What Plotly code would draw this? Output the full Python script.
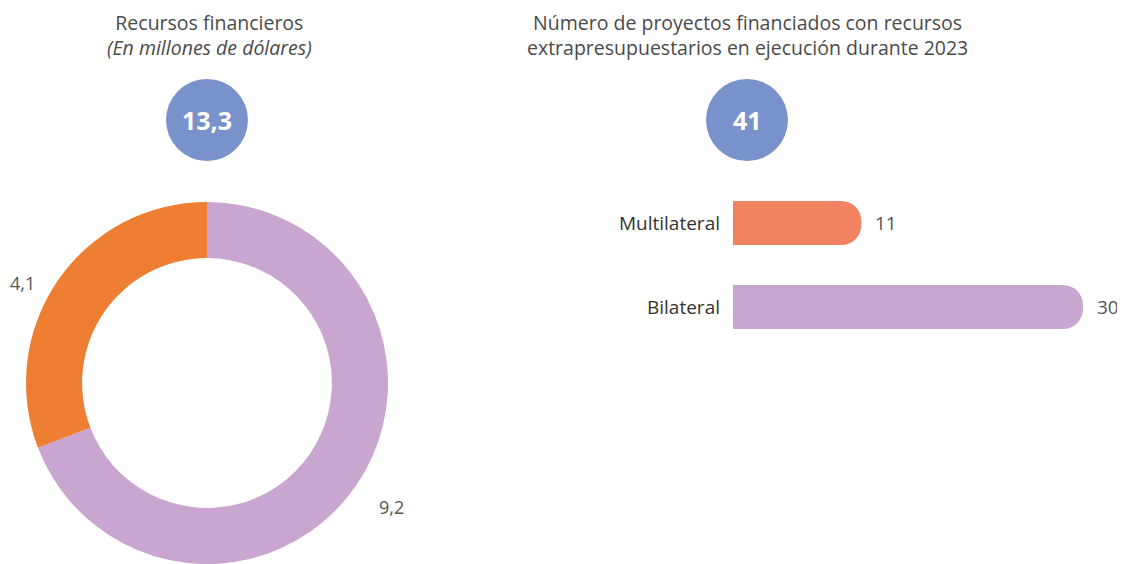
import math
import plotly.graph_objects as go

# data
donut_values = [9.2, 4.1]          # purple first (clockwise from 12 o'clock), then orange
donut_text = ["9,2", "4,1"]
donut_colors = ["#C8A6D0", "#EE7E32"]

bar_categories = ["Multilateral", "Bilateral"]
bar_values = [11, 30]
bar_colors = ["#F18262", "#C8A6D0"]

# page body has an 8px margin, so the figure is drawn from (8, 8)
OFF = 8
W, H = 1125 - OFF, 564 - OFF
FONT = "Open Sans, sans-serif"
BLUE = "#7A92CC"
GREY = "#4a4a4a"


def px(x):
    return (x - OFF) / W


def py(y):
    return 1 - (y - OFF) / H


fig = go.Figure()

# donut
pie_dom_x = [px(25), px(389)]
pie_dom_y = [0, py(202)]
fig.add_trace(go.Pie(
    values=donut_values,
    labels=["a", "b"],
    marker=dict(colors=donut_colors, line=dict(width=0)),
    hole=0.69,
    sort=False,
    direction="clockwise",
    rotation=0,
    textinfo="none",
    hoverinfo="skip",
    showlegend=False,
    domain=dict(x=pie_dom_x, y=pie_dom_y),
))

# donut value labels placed from slice mid-angles
cx = sum(pie_dom_x) / 2
cy = sum(pie_dom_y) / 2
total = sum(donut_values)
cum = 0
for v, t in zip(donut_values, donut_text):
    mid = (cum + v / 2) / total * 2 * math.pi
    cum += v
    dx = math.sin(mid) * 206
    dy = math.cos(mid) * 197
    fig.add_annotation(
        x=cx, y=cy, xref="paper", yref="paper",
        xshift=dx, yshift=dy - 12,
        text=t, showarrow=False,
        xanchor="right" if dx < 0 else "left", yanchor="middle",
        font=dict(family=FONT, size=18, color="#555555"),
    )

# bars
fig.add_trace(go.Bar(
    x=bar_values,
    y=bar_categories,
    orientation="h",
    marker=dict(color=bar_colors, cornerradius=20, line=dict(width=0)),
    hoverinfo="skip",
    showlegend=False,
))
for c, v in zip(bar_categories, bar_values):
    fig.add_annotation(
        x=v, y=c, xref="x", yref="y", text=str(v), showarrow=False,
        xanchor="left", yanchor="middle", xshift=12,
        font=dict(family=FONT, size=19, color="#555555"),
    )

# totals in circles
circles = [
    (207, "{:.1f}".format(sum(donut_values)).replace(".", ",")),
    (747, str(sum(bar_values))),
]
for x0, t in circles:
    fig.add_shape(type="circle", xref="paper", yref="paper",
                  x0=px(x0 - 41), x1=px(x0 + 41), y0=py(161), y1=py(79),
                  fillcolor=BLUE, line=dict(width=0))
    fig.add_annotation(x=px(x0), y=py(120), xref="paper", yref="paper",
                       xanchor="center", yanchor="middle",
                       text="<b>" + t + "</b>", showarrow=False,
                       font=dict(family=FONT, size=25, color="white"))

# titles
fig.add_annotation(
    x=px(209), y=1, xref="paper", yref="paper", xanchor="center", yanchor="top",
    text="Recursos financieros<br><i>(En millones de dólares)</i>", showarrow=False,
    borderpad=0,
    font=dict(family=FONT, size=19.5, color=GREY),
)
fig.add_annotation(
    x=px(747), y=1, xref="paper", yref="paper", xanchor="center", yanchor="top",
    text="Número de proyectos financiados con recursos<br>extrapresupuestarios en ejecución durante 2023",
    showarrow=False, borderpad=0,
    font=dict(family=FONT, size=19.5, color=GREY),
)

fig.update_layout(
    width=W, height=H,
    margin=dict(l=0, r=0, t=0, b=0),
    paper_bgcolor="white", plot_bgcolor="white",
    bargap=0.476,
    xaxis=dict(domain=[px(733), 1], range=[0, (W - 725) / (350 / 30)],
               visible=False, fixedrange=True),
    yaxis=dict(domain=[py(349), py(181)], autorange="reversed",
               showgrid=False, zeroline=False, showline=False,
               ticklabelstandoff=12,
               tickfont=dict(family=FONT, size=19, color="#333333")),
    font=dict(family=FONT),
)

fig.write_html("out.html")
